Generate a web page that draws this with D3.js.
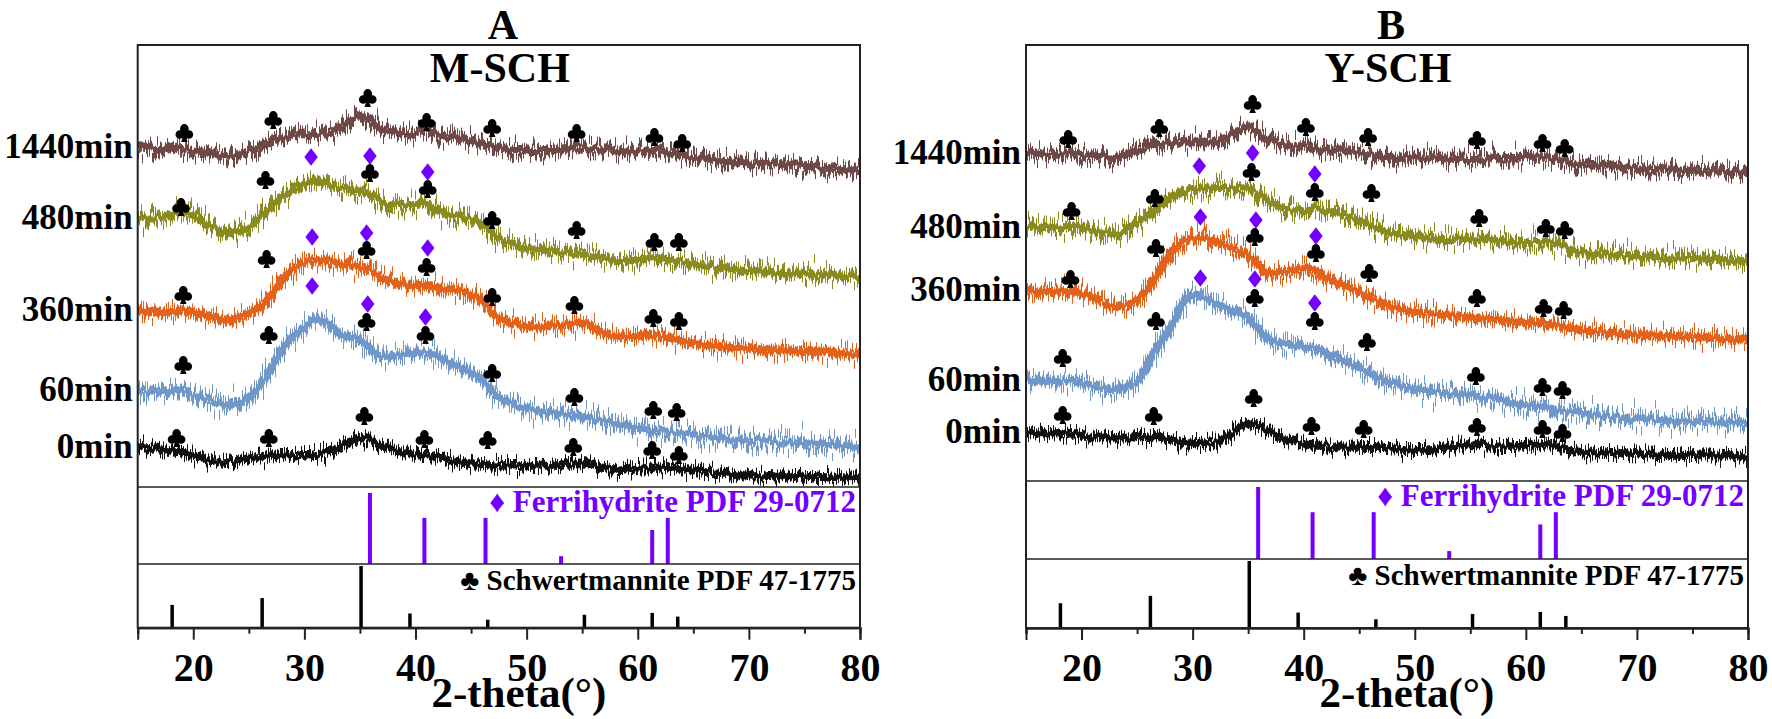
<!DOCTYPE html>
<html>
<head>
<meta charset="utf-8">
<script src="https://cdn.jsdelivr.net/npm/d3@7"></script>
<style>
  body { margin: 0; background: #fff; }
  svg text { font-family: "Liberation Serif", "Times New Roman", serif; font-weight: bold; }
</style>
</head>
<body>
<div id="chart"></div>
<script>
// 2-theta sampling used for every pattern
var angles = [15, 17, 19, 20, 21.5, 23, 25, 26.5, 28, 30, 31, 32, 33, 35, 36, 37, 38.5, 40, 41, 42,
              44, 45, 46, 47.5, 49, 51, 53, 55, 57, 58.5, 60, 61.5, 63, 65, 67, 69, 72, 75, 78, 80];

var sampleNames = ["1440min", "480min", "360min", "60min", "0min"];

// M-SCH patterns, stacked intensity (a.u.)
var mSch1440 = [340,337,339,335,334,332,335,344,349,352,353,354,357,371,367,357,354,354,357,352,
                349,347,344,339,337,337,337,339,337,335,336,338,334,330,327,325,323,321,318,315];
var mSch480  = [269,270,275,272,262,254,260,275,290,302,305,304,300,295,292,285,282,282,284,277,
                270,267,262,249,242,237,235,233,229,225,228,230,227,223,220,217,215,213,211,210];
var mSch360  = [177,175,177,175,171,167,174,185,207,225,227,226,224,220,215,210,204,202,202,199,
                197,192,185,169,163,160,162,164,154,150,151,152,149,144,141,139,137,136,134,132];
var mSch60   = [97,95,97,92,87,82,90,109,137,160,167,164,154,147,137,130,132,134,135,130,
                120,114,107,89,82,77,73,70,66,62,59,57,56,52,50,47,45,44,42,39];
var mSch0    = [40,38,35,32,27,24,29,31,32,32,32,35,39,50,46,41,36,32,32,30,
                25,24,23,21,21,21,22,24,19,18,19,20,19,16,14,12,11,10,10,9];

// Y-SCH patterns
var ySch1440 = [328,327,328,326,325,323,331,336,338,339,340,341,343,354,348,341,336,335,333,331,
                330,329,327,324,324,323,322,322,323,323,323,324,321,316,315,313,312,311,309,308];
var ySch480  = [254,253,255,253,249,246,258,269,284,291,292,293,293,294,286,278,272,271,273,270,
                265,261,256,249,246,243,241,242,241,240,239,239,236,228,227,226,224,223,221,219];
var ySch360  = [191,189,190,188,181,174,181,201,228,243,243,238,236,226,216,208,210,213,211,203,
                194,189,184,176,171,168,166,164,162,160,159,158,155,151,149,147,145,144,142,141];
var ySch60   = [101,100,100,98,94,91,99,128,154,186,184,178,173,164,151,141,137,134,133,128,
                118,113,108,100,95,90,88,86,82,79,76,74,71,68,65,63,61,60,59,58];
var ySch0    = [49,48,47,45,44,43,44,44,41,38,38,39,44,57,55,48,41,38,36,35,
                33,34,34,34,31,31,33,37,35,35,35,36,34,29,28,28,26,26,25,24];

// schwertmannite marks [2-theta, intensity] per sample
var mClubs = [
  [[19.2,354],[27.2,367],[35.7,389],[41.0,365],[46.9,359],[54.5,354],[61.5,350],[64.0,344]],
  [[18.9,280],[26.5,307],[35.9,314],[41.1,298],[46.9,267],[54.5,257],[61.5,245],[63.7,245]],
  [[19.1,192],[26.6,228],[35.6,237],[41.0,220],[46.9,190],[54.3,182],[61.4,169],[63.7,166]],
  [[19.1,122],[26.8,152],[35.6,165],[40.9,152],[46.9,114],[54.3,90],[61.4,77],[63.5,75]],
  [[18.5,49],[26.8,49],[35.4,71],[40.8,48],[46.5,47],[54.2,40],[61.3,37],[63.7,32]]
];
var yClubs = [
  [[18.8,342],[27.0,353],[35.4,377],[40.2,354],[45.8,344],[55.6,341],[61.5,338],[63.5,333]],
  [[19.1,270],[26.6,283],[35.3,309],[41.0,289],[46.1,288],[55.8,263],[61.8,253],[63.5,251]],
  [[19.0,202],[26.7,233],[35.6,244],[41.1,228],[45.9,208],[55.6,183],[61.6,173],[63.4,171]],
  [[18.3,123],[26.7,160],[35.6,183],[41.0,160],[45.7,139],[55.5,105],[61.5,94],[63.3,91]],
  [[18.3,66],[26.5,65],[35.5,83],[40.7,55],[45.4,52],[55.6,54],[61.5,52],[63.3,48]]
];
// ferrihydrite marks [2-theta, intensity] per sample
var mDiamonds = [
  [],
  [[30.6,330],[35.9,331],[41.1,315]],
  [[30.7,250],[35.6,254],[41.1,239]],
  [[30.7,201],[35.7,183],[40.9,170]],
  []
];
var yDiamonds = [
  [],
  [[30.6,315],[35.4,328],[41.0,307]],
  [[30.7,264],[35.7,261],[41.1,245]],
  [[30.7,203],[35.6,202],[41.0,178]],
  []
];

// reference sticks
var ferriAngles = [35.9, 40.8, 46.3, 53.1, 61.3, 62.7];
var ferriIntens = [100, 65, 65, 11, 48, 65];
var schwAngles  = [18.1, 26.2, 35.1, 39.5, 46.5, 55.2, 61.3, 63.6];
var schwIntens  = [37, 48, 100, 23, 13, 21, 24, 18];

var majorTicks = [20, 30, 40, 50, 60, 70, 80];
var minorTicks = [15, 25, 35, 45, 55, 65, 75];

// styles
var lineColors = ["#6e4747", "#8a8a1e", "#e2621b", "#7097c9", "#111111"];
var spikeAmp   = [36, 42, 42, 46, 28];
var purple = "#7300ff";

var svg = d3.select("#chart").append("svg")
    .attr("width", 1772)
    .attr("height", 719);

var defs = svg.append("defs");

// trace texture: column-wise vertical jitter (look of the counting noise)
function jitterFilter(id, freq, amp, seed) {
    var f = defs.append("filter")
        .attr("id", id)
        .attr("filterUnits", "userSpaceOnUse")
        .attr("x", 0).attr("y", 0).attr("width", 1772).attr("height", 719)
        .attr("color-interpolation-filters", "sRGB");
    f.append("feTurbulence")
        .attr("type", "fractalNoise")
        .attr("baseFrequency", freq + " 0.003")
        .attr("numOctaves", 2)
        .attr("seed", seed)
        .attr("result", "t");
    f.append("feColorMatrix")
        .attr("in", "t")
        .attr("type", "matrix")
        .attr("values", "0 0 0 0 0.5  0 1 0 0 0  0 0 0 0 0  0 0 0 0 1")
        .attr("result", "m");
    f.append("feDisplacementMap")
        .attr("in", "SourceGraphic")
        .attr("in2", "m")
        .attr("scale", amp)
        .attr("xChannelSelector", "R")
        .attr("yChannelSelector", "G");
}
lineColors.forEach(function(c, i) {
    jitterFilter("core" + i, 0.35, 12, 3 + i * 11);
    jitterFilter("spike" + i, 0.9, spikeAmp[i], 7 + i * 13);
});

// club symbol for d3.symbol
var symbolClub = {
    draw: function(ctx, size) {
        var r = Math.sqrt(size) / 4;
        [[0, -1.05, 1], [-1.05, 0.35, 1], [1.05, 0.35, 1], [0, 0.1, 0.6]].forEach(function(c) {
            ctx.moveTo(c[0] * r + c[2] * r, c[1] * r);
            ctx.arc(c[0] * r, c[1] * r, c[2] * r, 0, 2 * Math.PI);
        });
        ctx.moveTo(0, 0);
        ctx.lineTo(0.75 * r, 2.1 * r);
        ctx.lineTo(-0.75 * r, 2.1 * r);
        ctx.closePath();
    }
};
var symbolTallDiamond = {
    draw: function(ctx, size) {
        var h = Math.sqrt(size) / 2, w = h * 0.78;
        ctx.moveTo(0, -h);
        ctx.lineTo(w, 0);
        ctx.lineTo(0, h);
        ctx.lineTo(-w, 0);
        ctx.closePath();
    }
};

function drawPanel(p) {
    var x = d3.scaleLinear().domain([15, 80]).range([p.left, p.right]);
    var y = d3.scaleLinear().domain([0, p.dataBottom - p.top]).range([p.dataBottom, p.top]);
    var yFerri = d3.scaleLinear().domain([0, 100]).range([p.ferriBottom, p.dataBottom + 6]);
    var ySchw = d3.scaleLinear().domain([0, 100]).range([p.bottom, p.ferriBottom + 2]);

    var g = svg.append("g");

    g.append("clipPath").attr("id", "clip" + p.id)
        .append("rect")
        .attr("x", p.left).attr("y", p.top)
        .attr("width", p.right - p.left).attr("height", p.dataBottom - p.top);

    var line = d3.line()
        .x(function(d, i) { return x(angles[i]); })
        .y(function(d) { return y(d); })
        .curve(d3.curveMonotoneX);

    var traces = g.append("g").attr("clip-path", "url(#clip" + p.id + ")");
    p.series.forEach(function(s, i) {
        var tg = traces.append("g");
        tg.append("path")
            .attr("d", line(s))
            .attr("fill", "none")
            .attr("stroke", lineColors[i])
            .attr("stroke-width", i == 4 ? 8 : 9)
            .attr("filter", "url(#spike" + i + ")");
        tg.append("path")
            .attr("d", line(s))
            .attr("fill", "none")
            .attr("stroke", lineColors[i])
            .attr("stroke-width", i == 4 ? 5 : 6)
            .attr("filter", "url(#core" + i + ")");
    });

    // sample labels
    g.selectAll(".lab")
        .data(p.series)
        .enter()
        .append("text")
        .attr("x", p.left - 5)
        .attr("y", function(d) { return y(d[0]) + 11; })
        .attr("text-anchor", "end")
        .attr("font-size", 35)
        .text(function(d, i) { return sampleNames[i]; });

    // phase marks
    var club = d3.symbol().type(symbolClub).size(300);
    var diamond = d3.symbol().type(symbolTallDiamond).size(300);
    p.clubs.forEach(function(list) {
        g.selectAll(null).data(list).enter().append("path")
            .attr("d", club)
            .attr("transform", function(d) { return "translate(" + x(d[0]) + "," + y(d[1]) + ")"; })
            .attr("fill", "#000");
    });
    p.diamonds.forEach(function(list) {
        g.selectAll(null).data(list).enter().append("path")
            .attr("d", diamond)
            .attr("transform", function(d) { return "translate(" + x(d[0]) + "," + y(d[1]) + ")"; })
            .attr("fill", purple);
    });

    // reference sticks
    g.selectAll(".ferri")
        .data(ferriAngles)
        .enter()
        .append("line")
        .attr("x1", function(d) { return x(d); })
        .attr("x2", function(d) { return x(d); })
        .attr("y1", yFerri(0))
        .attr("y2", function(d, i) { return yFerri(ferriIntens[i]); })
        .attr("stroke", purple)
        .attr("stroke-width", 4);
    g.selectAll(".schw")
        .data(schwAngles)
        .enter()
        .append("line")
        .attr("x1", function(d) { return x(d); })
        .attr("x2", function(d) { return x(d); })
        .attr("y1", ySchw(0))
        .attr("y2", function(d, i) { return ySchw(schwIntens[i]); })
        .attr("stroke", "#000")
        .attr("stroke-width", 3.5);

    g.append("text")
        .attr("x", p.right - 4)
        .attr("y", p.dataBottom + 25)
        .attr("text-anchor", "end")
        .attr("font-size", 31)
        .attr("fill", purple)
        .text("\u2666 Ferrihydrite PDF 29-0712");
    g.append("text")
        .attr("x", p.right - 4)
        .attr("y", p.ferriBottom + 26)
        .attr("text-anchor", "end")
        .attr("font-size", 29)
        .attr("fill", "#000")
        .text("\u2663 Schwertmannite PDF 47-1775");

    // frame and dividers
    g.append("rect")
        .attr("x", p.left).attr("y", p.top)
        .attr("width", p.right - p.left).attr("height", p.bottom - p.top)
        .attr("fill", "none").attr("stroke", "#222").attr("stroke-width", 2);
    [p.dataBottom, p.ferriBottom].forEach(function(v) {
        g.append("line")
            .attr("x1", p.left).attr("x2", p.right)
            .attr("y1", v).attr("y2", v)
            .attr("stroke", "#222").attr("stroke-width", 1.6);
    });

    // x axis
    var major = g.append("g")
        .attr("transform", "translate(0," + p.bottom + ")")
        .call(d3.axisBottom(x).tickValues(majorTicks).tickSize(12).tickPadding(13).tickFormat(d3.format("d")));
    var minor = g.append("g")
        .attr("transform", "translate(0," + p.bottom + ")")
        .call(d3.axisBottom(x).tickValues(minorTicks).tickSize(6).tickFormat(""));
    [major, minor].forEach(function(a) {
        a.select(".domain").attr("stroke", "#222").attr("stroke-width", 2);
        a.selectAll(".tick line").attr("stroke", "#222").attr("stroke-width", 2);
    });
    major.selectAll(".tick text")
        .attr("font-size", 40)
        .attr("font-family", "Liberation Serif, serif")
        .attr("font-weight", "bold")
        .attr("fill", "#000");

    var cx = (p.left + p.right) / 2;
    g.append("text")
        .attr("x", cx + 20).attr("y", 707)
        .attr("text-anchor", "middle")
        .attr("font-size", 43)
        .text("2-theta(\u00b0)");

    g.append("text")
        .attr("x", cx + 4).attr("y", 39)
        .attr("text-anchor", "middle")
        .attr("font-size", 42)
        .text(p.letter);
    g.append("text")
        .attr("x", cx + 1).attr("y", 82)
        .attr("text-anchor", "middle")
        .attr("font-size", 42)
        .text(p.title);
}

drawPanel({
    id: "A", letter: "A", title: "M-SCH",
    left: 137.7, right: 860, top: 45, dataBottom: 487, ferriBottom: 564, bottom: 627.7,
    series: [mSch1440, mSch480, mSch360, mSch60, mSch0],
    clubs: mClubs, diamonds: mDiamonds
});
drawPanel({
    id: "B", letter: "B", title: "Y-SCH",
    left: 1026, right: 1748, top: 45, dataBottom: 481, ferriBottom: 559, bottom: 628,
    series: [ySch1440, ySch480, ySch360, ySch60, ySch0],
    clubs: yClubs, diamonds: yDiamonds
});
</script>
</body>
</html>
